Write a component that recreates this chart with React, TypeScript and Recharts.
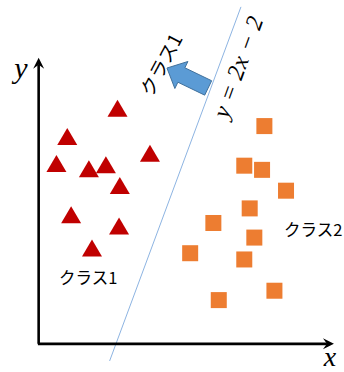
import { ScatterChart, Scatter, XAxis, YAxis, ReferenceLine, ReferenceDot } from 'recharts';

// class 1 (red triangles)
const class1X = [1.02, 0.37, 1.44, 0.23, 0.65, 0.87, 1.05, 0.42, 1.04, 0.69];
const class1Y = [2.26, 1.99, 1.83, 1.73, 1.68, 1.72, 1.52, 1.24, 1.13, 0.92];

// class 2 (orange squares)
const class2X = [2.92, 2.66, 2.89, 3.2, 2.73, 2.26, 2.79, 1.96, 2.66, 3.05, 2.33];
const class2Y = [2.09, 1.71, 1.67, 1.47, 1.3, 1.16, 1.02, 0.87, 0.81, 0.51, 0.42];

// decision boundary y = 2x - 2
const boundarySlope = 2;
const boundaryIntercept = -2;
const boundaryXRange = [0.918, 2.617];

const class1 = class1X.map((x, i) => ({ x, y: class1Y[i] }));
const class2 = class2X.map((x, i) => ({ x, y: class2Y[i] }));

const jp = '"Noto Sans CJK JP", sans-serif';
const serif = '"Liberation Serif", serif';

const Triangle = (props: any) => {
  const { cx, cy } = props;
  const w = 20, h = 17;
  return (
    <polygon
      points={`${cx},${cy - h / 2} ${cx + w / 2},${cy + h / 2} ${cx - w / 2},${cy + h / 2}`}
      fill="#c00000"
    />
  );
};

const Square = (props: any) => {
  const { cx, cy } = props;
  const s = 16;
  return <rect x={cx - s / 2} y={cy - s / 2} width={s} height={s} fill="#ed7d31" />;
};

const AxisArrow = (props: any) => {
  const { x1, y1, x2, y2 } = props;
  const a = Math.atan2(y2 - y1, x2 - x1);
  const ux = Math.cos(a), uy = Math.sin(a);
  const px = -uy, py = ux;
  const L = 11, W = 5.5, notch = 7;
  const bx = x2 - ux * L, by = y2 - uy * L;
  const pts = [
    [x2, y2],
    [bx + px * W, by + py * W],
    [x2 - ux * notch, y2 - uy * notch],
    [bx - px * W, by - py * W],
  ];
  return (
    <g>
      <line x1={x1} y1={y1} x2={x2 - ux * notch} y2={y2 - uy * notch} stroke="#000" strokeWidth={2.6} />
      <polygon points={pts.map((p) => p.join(',')).join(' ')} fill="#000" />
    </g>
  );
};

const BlockArrow = (props: any) => {
  const { x1, y1, x2, y2 } = props;
  const a = Math.atan2(y2 - y1, x2 - x1);
  const ux = Math.cos(a), uy = Math.sin(a);
  const px = -uy, py = ux;
  const len = Math.hypot(x2 - x1, y2 - y1);
  const sw = 8, hw = 15, hl = 16;
  const hb = len - hl;
  const P = (t: number, n: number) => `${x1 + ux * t + px * n},${y1 + uy * t + py * n}`;
  const pts = [P(0, sw), P(hb, sw), P(hb, hw), P(len, 0), P(hb, -hw), P(hb, -sw), P(0, -sw)];
  return <polygon points={pts.join(' ')} fill="#5b9bd5" stroke="#41719c" strokeWidth={1} />;
};

const makeText = (text: string, opts: any) => (props: any) => {
  const { cx, cy } = props;
  return (
    <text
      x={cx}
      y={cy}
      textAnchor={opts.anchor || 'middle'}
      dominantBaseline="central"
      fontFamily={opts.font}
      fontSize={opts.size}
      fontStyle={opts.italic ? 'italic' : 'normal'}
      fill="#000"
      textLength={opts.length}
      lengthAdjust={opts.length ? 'spacing' : undefined}
      transform={opts.angle ? `rotate(${opts.angle} ${cx} ${cy})` : undefined}
    >
      {text}
    </text>
  );
};

export default function App() {
  const [bx0, bx1] = boundaryXRange;
  return (
    <div style={{ width: 344, height: 372, background: '#fff' }}>
      <style>{'body{margin:0}'}</style>
      <ScatterChart width={344} height={372} margin={{ top: 0, right: 0, bottom: 0, left: 0 }}>
        <XAxis type="number" dataKey="x" domain={[-0.5, 3.95]} hide allowDataOverflow />
        <YAxis type="number" dataKey="y" domain={[-0.27, 3.3]} hide allowDataOverflow />
        <ReferenceLine
          segment={[{ x: bx0, y: boundarySlope * bx0 + boundaryIntercept }, { x: bx1, y: boundarySlope * bx1 + boundaryIntercept }]}
          stroke="#8db4e2"
          strokeWidth={1}
        />
        <ReferenceLine segment={[{ x: 0, y: 0 }, { x: 0, y: 2.745 }]} shape={AxisArrow} />
        <ReferenceLine segment={[{ x: -0.01, y: 0 }, { x: 3.82, y: 0 }]} shape={AxisArrow} />
        <ReferenceLine segment={[{ x: 2.193, y: 2.456 }, { x: 1.66, y: 2.647 }]} shape={BlockArrow} />
        <Scatter data={class1} shape={Triangle} isAnimationActive={false} />
        <Scatter data={class2} shape={Square} isAnimationActive={false} />
        <ReferenceDot x={-0.228} y={2.65} r={1} shape={makeText('y', { font: serif, size: 30, italic: true })} />
        <ReferenceDot x={3.77} y={-0.12} r={1} shape={makeText('x', { font: serif, size: 28, italic: true })} />
        <ReferenceDot x={2.579} y={2.657} r={1} shape={makeText('y = 2x − 2', { font: serif, size: 24, italic: true, angle: -70, length: 106 })} />
        <ReferenceDot x={1.57} y={2.686} r={1} shape={makeText('クラス1', { font: jp, size: 19, angle: -62 })} />
        <ReferenceDot x={0.263} y={0.642} r={1} shape={makeText('クラス1', { font: jp, size: 16.5, anchor: 'start' })} />
        <ReferenceDot x={3.175} y={1.103} r={1} shape={makeText('クラス2', { font: jp, size: 16.5, anchor: 'start' })} />
      </ScatterChart>
    </div>
  );
}
